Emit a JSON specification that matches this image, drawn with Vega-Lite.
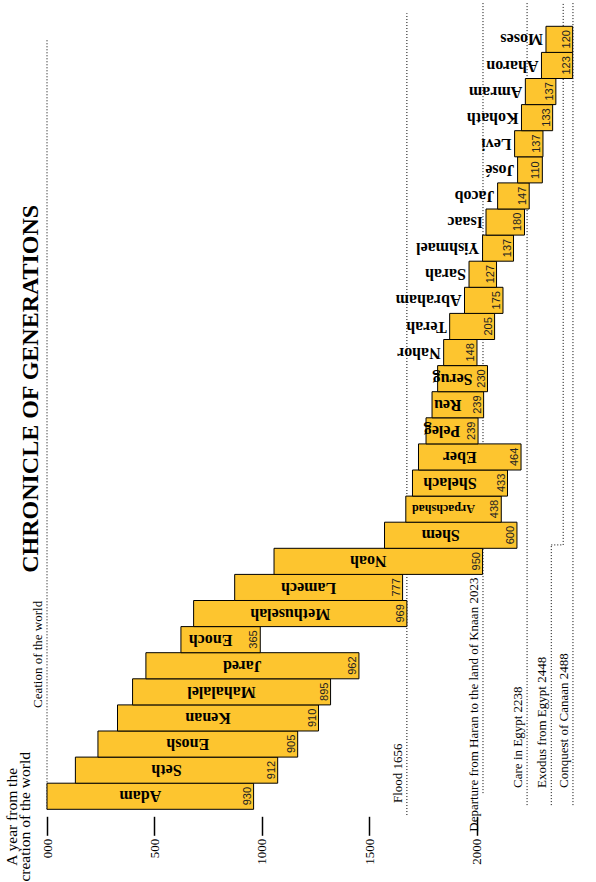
{
  "$schema": "https://vega.github.io/schema/vega-lite/v6.json",
  "width": 548,
  "height": 783,
  "autosize": {"type": "none"},
  "padding": {"left": 47, "top": 26.3, "right": 1, "bottom": 72.7},
  "background": "white",
  "config": {"view": {"stroke": null}},
  "datasets": {
    "gens": [
      {"name": "Adam", "row": 0, "top": 1, "start": 0, "end": 961, "life": 930},
      {"name": "Seth", "row": 1, "top": 2, "start": 132, "end": 1073, "life": 912},
      {"name": "Enosh", "row": 2, "top": 3, "start": 237, "end": 1166, "life": 905},
      {"name": "Kenan", "row": 3, "top": 4, "start": 328, "end": 1263, "life": 910},
      {"name": "Mahalalel", "row": 4, "top": 5, "start": 398, "end": 1319, "life": 895},
      {"name": "Jared", "row": 5, "top": 6, "start": 460, "end": 1451, "life": 962},
      {"name": "Enoch", "row": 6, "top": 7, "start": 623, "end": 992, "life": 365},
      {"name": "Methuselah", "row": 7, "top": 8, "start": 682, "end": 1674, "life": 969},
      {"name": "Lamech", "row": 8, "top": 9, "start": 873, "end": 1654, "life": 777},
      {"name": "Noah", "row": 9, "top": 10, "start": 1056, "end": 2026, "life": 950},
      {"name": "Shem", "row": 10, "top": 11, "start": 1570, "end": 2186, "life": 600},
      {"name": "Arpachshad", "row": 11, "top": 12, "start": 1669, "end": 2113, "life": 438},
      {"name": "Shelach", "row": 12, "top": 13, "start": 1700, "end": 2142, "life": 433},
      {"name": "Eber", "row": 13, "top": 14, "start": 1728, "end": 2205, "life": 464},
      {"name": "Peleg", "row": 14, "top": 15, "start": 1763, "end": 2005, "life": 239},
      {"name": "Reu", "row": 15, "top": 16, "start": 1791, "end": 2031, "life": 239},
      {"name": "Serug", "row": 16, "top": 17, "start": 1817, "end": 2049, "life": 230},
      {"name": "Nahor", "row": 17, "top": 18, "start": 1845, "end": 2000, "life": 148},
      {"name": "Terah", "row": 18, "top": 19, "start": 1873, "end": 2082, "life": 205},
      {"name": "Abraham", "row": 19, "top": 20, "start": 1942, "end": 2121, "life": 175},
      {"name": "Sarah", "row": 20, "top": 21, "start": 1963, "end": 2091, "life": 127},
      {"name": "Yishmael", "row": 21, "top": 22, "start": 2026, "end": 2170, "life": 137},
      {"name": "Isaac", "row": 22, "top": 23, "start": 2042, "end": 2221, "life": 180},
      {"name": "Jacob", "row": 23, "top": 24, "start": 2096, "end": 2243, "life": 147},
      {"name": "José", "row": 24, "top": 25, "start": 2189, "end": 2304, "life": 110},
      {"name": "Levi", "row": 25, "top": 26, "start": 2175, "end": 2307, "life": 137},
      {"name": "Kohath", "row": 26, "top": 27, "start": 2207, "end": 2352, "life": 133},
      {"name": "Amram", "row": 27, "top": 28, "start": 2225, "end": 2367, "life": 137},
      {"name": "Aharon", "row": 28, "top": 29, "start": 2300, "end": 2445, "life": 123},
      {"name": "Moses", "row": 29, "top": 30, "start": 2321, "end": 2445, "life": 120}
    ],
    "vlines": [
      {"year": 0, "y1": 0, "y2": 29.47},
      {"year": 1674, "y1": -0.22, "y2": 30.5},
      {"year": 2028, "y1": 0.62, "y2": 30.9},
      {"year": 2233, "y1": 0.16, "y2": 30.9},
      {"year": 2345.6, "y1": 0.16, "y2": 10.13},
      {"year": 2401, "y1": 10.13, "y2": 30.9},
      {"year": 2446.5, "y1": 0.16, "y2": 30.9}
    ],
    "hlines": [
      {"year": 2345.6, "year2": 2401, "ry": 10.13}
    ],
    "events": [
      {"label": "Ceation of the world", "year": 0, "ry": 3.88},
      {"label": "Flood 1656", "year": 1674, "ry": 0.24},
      {"label": "Departure from Haran to the land of Knaan 2023", "year": 2028, "ry": -0.86},
      {"label": "Care in Egypt 2238", "year": 2233, "ry": 0.82},
      {"label": "Exodus from Egypt 2448", "year": 2345.6, "ry": 0.82},
      {"label": "Conquest of Canaan 2488", "year": 2446.5, "ry": 0.82}
    ]
  },
  "layer": [
    {
      "data": {"name": "vlines"},
      "mark": {"type": "rule", "strokeDash": [1, 2], "color": "black", "strokeWidth": 1},
      "encoding": {
        "x": {
          "field": "year", "type": "quantitative",
          "scale": {"domain": [0, 2549], "nice": false, "zero": false},
          "axis": {
            "values": [0, 500, 1000, 1500, 2000],
            "format": "d",
            "labelExpr": "datum.value == 0 ? '000' : datum.label",
            "labelAngle": 270,
            "labelFont": "Liberation Serif",
            "labelFontSize": 13,
            "labelColor": "black",
            "labelPadding": 3,
            "tickSize": 19,
            "tickColor": "black",
            "tickWidth": 1.5,
            "domain": false,
            "grid": false,
            "offset": 7,
            "title": ["A year from the", "creation of the world"],
            "titleAngle": 270,
            "titleX": -36,
            "titleY": 0,
            "titleAlign": "center",
            "titleBaseline": "middle",
            "titleFont": "Liberation Serif",
            "titleFontSize": 15.5,
            "titleFontWeight": "normal",
            "titleColor": "black",
            "titleLineHeight": 13.5
          }
        },
        "y": {
          "field": "y1", "type": "quantitative",
          "scale": {"domain": [0, 30], "nice": false, "zero": false},
          "axis": {
            "labels": false,
            "ticks": false,
            "domain": false,
            "grid": false,
            "title": "CHRONICLE OF GENERATIONS",
            "titleAngle": 270,
            "titleX": -10,
            "titleY": 362,
            "titleAlign": "center",
            "titleBaseline": "alphabetic",
            "titleFont": "Liberation Serif",
            "titleFontSize": 24,
            "titleFontWeight": "bold",
            "titleColor": "black"
          }
        },
        "y2": {"field": "y2"}
      }
    },
    {
      "data": {"name": "hlines"},
      "mark": {"type": "rule", "strokeDash": [1, 2], "color": "black", "strokeWidth": 1},
      "encoding": {
        "x": {"field": "year", "type": "quantitative"},
        "x2": {"field": "year2"},
        "y": {"field": "ry", "type": "quantitative"}
      }
    },
    {
      "data": {"name": "events"},
      "mark": {"type": "text", "angle": 270, "align": "left", "baseline": "alphabetic", "dy": -5, "font": "Liberation Serif", "fontSize": 13, "color": "black"},
      "encoding": {
        "x": {"field": "year", "type": "quantitative"},
        "y": {"field": "ry", "type": "quantitative"},
        "text": {"field": "label"}
      }
    },
    {
      "data": {"name": "gens"},
      "mark": {"type": "bar", "fill": "#FDC52F", "stroke": "black", "strokeWidth": 1},
      "encoding": {
        "x": {"field": "start", "type": "quantitative"},
        "x2": {"field": "end"},
        "y": {"field": "row", "type": "quantitative"},
        "y2": {"field": "top"}
      }
    },
    {
      "data": {"name": "gens"},
      "mark": {"type": "text", "angle": 270, "align": "left", "baseline": "bottom", "dx": 4, "dy": -1, "font": "Liberation Sans", "fontSize": 11, "color": "#222"},
      "encoding": {
        "x": {"field": "end", "type": "quantitative"},
        "y": {"field": "row", "type": "quantitative"},
        "text": {"field": "life"}
      }
    },
    {
      "data": {"name": "gens"},
      "transform": [
        {"filter": "datum.life > 220"},
        {"fold": ["start", "end"], "as": ["k", "v"]},
        {"aggregate": [{"op": "mean", "field": "v", "as": "mid"}], "groupby": ["name", "row", "life"]}
      ],
      "mark": {"type": "text", "angle": 180, "align": "center", "baseline": "middle", "dx": 10, "dy": 13, "font": "Liberation Serif", "fontWeight": "bold", "color": "black"},
      "encoding": {
        "x": {"field": "mid", "type": "quantitative"},
        "y": {"field": "row", "type": "quantitative"},
        "text": {"field": "name"},
        "size": {"condition": {"test": "datum.name === 'Arpachshad'", "value": 12}, "value": 16}
      }
    },
    {
      "data": {"name": "gens"},
      "transform": [{"filter": "datum.life <= 220"}],
      "mark": {"type": "text", "angle": 180, "align": "left", "baseline": "middle", "dx": 3, "dy": 13, "font": "Liberation Serif", "fontWeight": "bold", "fontSize": 16, "color": "black"},
      "encoding": {
        "x": {"field": "start", "type": "quantitative"},
        "y": {"field": "row", "type": "quantitative"},
        "text": {"field": "name"}
      }
    }
  ]
}
